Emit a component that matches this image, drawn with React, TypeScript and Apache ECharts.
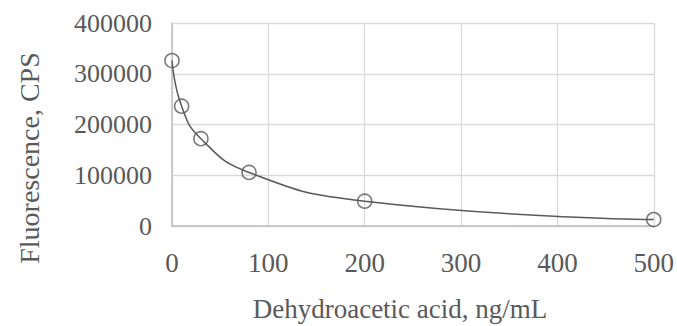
import React, { useEffect, useRef } from "react";
import * as echarts from "echarts";

const concentrations = [0, 10, 30, 80, 200, 500];
const fluorescence = [326000, 236000, 172000, 105500, 48800, 12600];
const xTicks = [0, 100, 200, 300, 400, 500];
const yTicks = [0, 100000, 200000, 300000, 400000];
const xTitle = "Dehydroacetic acid, ng/mL";
const yTitle = "Fluorescence, CPS";

const FONT = "Liberation Serif";
const TEXT = "#595959";

export default function App() {
  const ref = useRef<HTMLDivElement>(null);
  useEffect(() => {
    if (!ref.current) return;
    const chart = echarts.init(ref.current, undefined, { renderer: "svg" });
    const pts = concentrations.map((c, i) => [c, fluorescence[i]]);
    chart.setOption({
      animation: false,
      backgroundColor: "#ffffff",
      grid: { left: 172, right: 21, top: 23, bottom: 100, containLabel: false },
      xAxis: {
        type: "value",
        min: xTicks[0],
        max: xTicks[xTicks.length - 1],
        interval: 100,
        axisLine: { show: true, lineStyle: { color: "#bfbfbf", width: 1.5 } },
        axisTick: { show: false },
        axisLabel: { fontFamily: FONT, fontSize: 27, color: TEXT, margin: 23, formatter: (v: number) => String(v) },
        splitLine: { show: true, lineStyle: { color: "#d9d9d9", width: 1.3 } },
      },
      yAxis: {
        type: "value",
        min: yTicks[0],
        max: yTicks[yTicks.length - 1],
        interval: 100000,
        axisLine: { show: true, lineStyle: { color: "#bfbfbf", width: 1.5 } },
        axisTick: { show: false },
        axisLabel: { fontFamily: FONT, fontSize: 26, color: TEXT, margin: 20, formatter: (v: number) => String(v) },
        splitLine: { show: true, lineStyle: { color: "#d9d9d9", width: 1.3 } },
      },
      graphic: [
        {
          type: "text",
          x: 400,
          y: 309,
          style: {
            text: xTitle,
            fontFamily: FONT,
            fontSize: 27,
            fill: TEXT,
            textAlign: "center",
            textVerticalAlign: "middle",
          },
        },
        {
          type: "text",
          x: 29,
          y: 158,
          rotation: Math.PI / 2,
          style: {
            text: yTitle,
            fontFamily: FONT,
            fontSize: 28,
            fill: TEXT,
            textAlign: "center",
            textVerticalAlign: "middle",
          },
        },
      ],
      series: [
        {
          type: "line",
          data: pts,
          smooth: 0.5,
          symbol: "none",
          lineStyle: { color: "#595959", width: 1.5 },
          z: 2,
        },
        {
          type: "scatter",
          data: pts,
          symbol: "circle",
          symbolSize: 14,
          itemStyle: { color: "rgba(255,255,255,0)", borderColor: "#595959", borderWidth: 1.6 },
          z: 3,
        },
      ],
    });
    return () => chart.dispose();
  }, []);
  return <div ref={ref} style={{ width: 677, height: 326, position: "absolute", left: 0, top: 0 }} />;
}
